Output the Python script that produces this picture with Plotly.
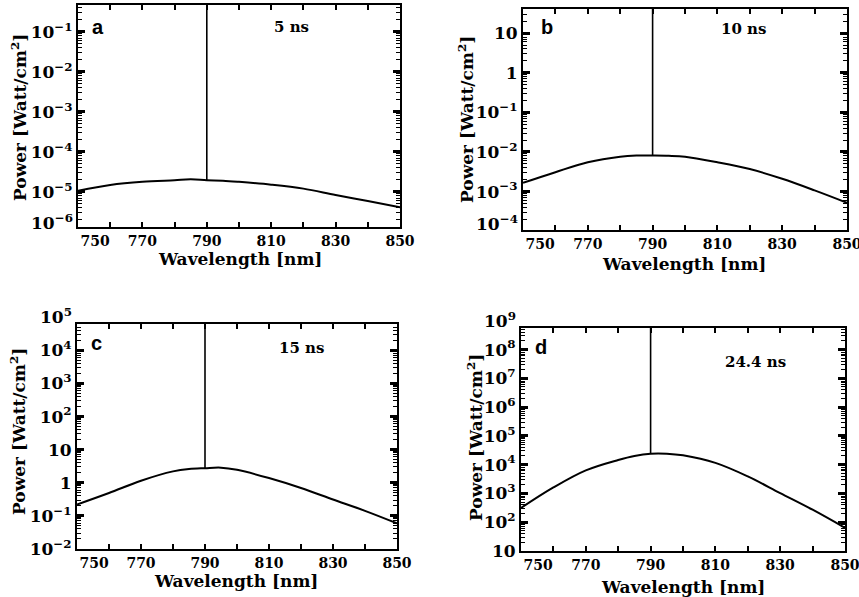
import plotly.graph_objects as go

W, H = 859, 597

# ---------------- data ----------------
wavelength = [750, 760, 770, 780, 785, 790, 795, 800, 810, 820, 830, 840, 850]
power_a = [1.06e-5, 1.48e-5, 1.78e-5, 1.95e-5, 2.05e-5, 1.95e-5, 1.9e-5, 1.78e-5, 1.51e-5, 1.2e-5, 8.3e-6, 5.9e-6, 4.1e-6]
power_b = [1.66e-3, 3.09e-3, 5.5e-3, 7.6e-3, 8.1e-3, 8.1e-3, 8.0e-3, 7.6e-3, 5.5e-3, 3.7e-3, 2.1e-3, 1.07e-3, 5.2e-4]
power_c = [0.22, 0.49, 1.15, 2.2, 2.6, 2.75, 2.85, 2.45, 1.38, 0.69, 0.31, 0.141, 0.059]
power_d = [309, 1600, 6300, 1.45e4, 2.0e4, 2.4e4, 2.4e4, 2.1e4, 1.15e4, 3890, 1020, 269, 63]

spike_wavelength = 790
spike_peak = [1.0, 1e2, 1e5, 1e9]

panel_letters = ["a", "b", "c", "d"]
panel_times = ["5 ns", "10 ns", "15 ns", "24.4 ns"]

x_tickvals = [750, 770, 790, 810, 830, 850]
x_ticktext = ["\u00a0" * 7 + "750", "770", "790", "810", "830", "850"]

y_tickvals_a = [-5, -4, -3, -2, -1]
y_tickvals_b = [-4, -3, -2, -1, 0, 1]
y_tickvals_c = [-2, -1, 0, 1, 2, 3, 4]
y_tickvals_d = [1, 2, 3, 4, 5, 6, 7, 8]

# ---------------- layout helpers ----------------
def px_x(x):
    return x / W

def px_y(y):
    return 1 - y / H

def log_label(e):
    if e == 0:
        return "1"
    if e == 1:
        return "10"
    return "10<sup>%s</sup>" % (str(e).replace("-", "\u2212"))

def minor_vals(lo, hi):
    out = []
    for e in range(lo, hi + 1):
        for k in range(2, 10):
            out.append(k * 10.0 ** e)
    return out

panels = [
    dict(power=power_a, xd=(78, 400), yd=(5, 227), yr=(-5.88, -0.33), tv=y_tickvals_a,
         extra=[(-6, 222)], letter=(98, 27), time=(291, 27), xt=(240, 259), yt=(19, 118)),
    dict(power=power_b, xd=(523, 847), yd=(9, 230), yr=(-3.97, 1.61), tv=y_tickvals_b,
         extra=[(-4, 223)], letter=(547, 27), time=(743, 29), xt=(684, 264), yt=(466, 120)),
    dict(power=power_c, xd=(77, 397), yd=(324, 549), yr=(-2.005, 4.8), tv=y_tickvals_c,
         extra=[(5, 316)], letter=(96, 343), time=(301, 348), xt=(236, 581), yt=(18, 432)),
    dict(power=power_d, xd=(521, 845), yd=(328, 551), yr=(0.995, 8.75), tv=y_tickvals_d,
         extra=[(9, 320)], letter=(541, 347), time=(755, 362), xt=(683, 587), yt=(475, 437)),
]

serif = "DejaVu Serif"
fig = go.Figure()
annotations = []
layout = {}

for i, p in enumerate(panels):
    n = "" if i == 0 else str(i + 1)
    xa, ya = "x" + n, "y" + n
    fig.add_trace(go.Scatter(x=wavelength, y=p["power"], mode="lines",
                             line=dict(color="black", width=2, shape="spline", smoothing=1.0),
                             xaxis=xa, yaxis=ya, showlegend=False, hoverinfo="skip"))
    base = p["power"][wavelength.index(spike_wavelength)]
    fig.add_trace(go.Scatter(x=[spike_wavelength, spike_wavelength], y=[base, spike_peak[i]],
                             mode="lines", line=dict(color="black", width=1.6),
                             xaxis=xa, yaxis=ya, showlegend=False, hoverinfo="skip"))
    layout["xaxis" + n] = dict(
        domain=[px_x(p["xd"][0]), px_x(p["xd"][1])], anchor=ya, range=[750, 850],
        automargin=False, ticklabeloverflow="allow",
        tickmode="array", tickvals=x_tickvals, ticktext=x_ticktext,
        ticks="inside", ticklen=5, tickwidth=1.5, tickcolor="black",
        minor=dict(ticks="inside", ticklen=5, tickwidth=1.5, tickcolor="black",
                   tickmode="array", tickvals=[760, 780, 800, 820, 840]),
        showline=True, linecolor="black", linewidth=2, mirror="allticks",
        showgrid=False, zeroline=False,
        tickfont=dict(family=serif, size=14, color="black", weight="bold"),
    )
    lo, hi = int(p["yr"][0]) - 1, int(p["yr"][1]) + 1
    layout["yaxis" + n] = dict(
        domain=[px_y(p["yd"][1]), px_y(p["yd"][0])], anchor=xa, type="log",
        automargin=False, ticklabeloverflow="allow",
        range=list(p["yr"]), tickmode="array", tickvals=[10 ** v for v in p["tv"]],
        ticktext=[log_label(v) for v in p["tv"]],
        ticks="inside", ticklen=7, tickwidth=3, tickcolor="black",
        minor=dict(ticks="inside", ticklen=4, tickwidth=1, tickcolor="black",
                   tickmode="array", tickvals=minor_vals(lo, hi)),
        showline=True, linecolor="black", linewidth=2, mirror="allticks",
        showgrid=False, zeroline=False,
        tickfont=dict(family=serif, size=17, color="black", weight="bold"),
    )
    for e, ypx in p["extra"]:
        annotations.append(dict(x=px_x(p["xd"][0] - 3), y=px_y(ypx), xref="paper", yref="paper",
                                text=log_label(e), showarrow=False, xanchor="right", yanchor="middle",
                                font=dict(family=serif, size=17, color="black", weight="bold")))
    annotations.append(dict(x=px_x(p["letter"][0]), y=px_y(p["letter"][1]), xref="paper", yref="paper",
                            text=panel_letters[i], showarrow=False, xanchor="center", yanchor="middle",
                            font=dict(family="Liberation Sans", size=20, color="black", weight="bold")))
    annotations.append(dict(x=px_x(p["time"][0]), y=px_y(p["time"][1]), xref="paper", yref="paper",
                            text=panel_times[i], showarrow=False, xanchor="center", yanchor="middle",
                            font=dict(family=serif, size=15, color="black", weight="bold")))
    annotations.append(dict(x=px_x(p["xt"][0]), y=px_y(p["xt"][1]), xref="paper", yref="paper",
                            text="Wavelength [nm]", showarrow=False, xanchor="center", yanchor="middle",
                            font=dict(family=serif, size=17, color="black", weight="bold")))
    annotations.append(dict(x=px_x(p["yt"][0]), y=px_y(p["yt"][1]), xref="paper", yref="paper",
                            text="Power [Watt/cm<sup>2</sup>]", showarrow=False, textangle=-90,
                            xanchor="center", yanchor="middle",
                            font=dict(family=serif, size=17, color="black", weight="bold")))

fig.update_layout(width=W, height=H, margin=dict(l=0, r=0, t=0, b=0),
                  paper_bgcolor="white", plot_bgcolor="white",
                  annotations=annotations, showlegend=False, **layout)
fig.write_html("out.html")
